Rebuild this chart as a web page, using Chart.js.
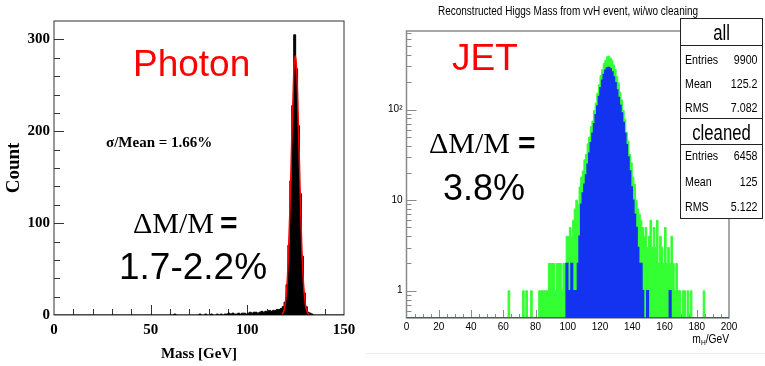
<!DOCTYPE html>
<html>
<head>
<meta charset="utf-8">
<script src="https://cdn.jsdelivr.net/npm/chart.js@4.4.1/dist/chart.umd.min.js"></script>
<style>
html, body { margin: 0; padding: 0; background: #fff; width: 765px; height: 366px; overflow: hidden; }
#photon { position: absolute; left: 0; top: 0; }
#jet { position: absolute; left: 370px; top: 0; }
#rule { position: absolute; left: 366px; top: 353px; width: 399px; height: 1px; background: #ececec; }
</style>
</head>
<body>
<canvas id="photon" width="370" height="366"></canvas>
<canvas id="jet" width="395" height="366"></canvas>
<div id="rule"></div>
<script>
// ---- data ----

// photon mass histogram, 1 GeV bins starting at 60 GeV
const photonStart = 60
const photonBin = 1
const photonCounts = [
    0, 0, 1, 0, 0, 0, 0, 0, 0, 0,          // 60-69
    0, 0, 0, 0, 0, 1, 0, 0, 1, 0,          // 70-79
    0, 1, 0, 0, 1, 0, 1, 0, 1, 1,          // 80-89
    2, 1, 2, 1, 1, 2, 1, 2, 2, 1,          // 90-99
    2, 3, 2, 3, 3, 2, 3, 4, 3, 4,          // 100-109
    4, 5, 4, 5, 5, 6, 6, 7, 9, 14,         // 110-119
    33, 76, 146, 228, 305, 268, 206, 132, 64, 24, // 120-129
    9, 3, 2, 1, 0                          // 130-134
]

// gaussian fit drawn in red
const fitMass  = [118, 119, 120, 121, 122, 123, 124, 124.4, 124.8, 125.2, 125.6, 126, 127, 128, 129, 130, 131, 132]
const fitCount = [1, 5, 19, 52, 113, 193, 262, 277, 282, 277, 264, 238, 160, 85, 36, 12, 3, 1]

// jet mass histograms, 1 GeV bins
const allStart = 60
const allCounts = [
    0, 0, 0, 1, 0, 0, 0, 0, 0, 0,          // 60-69
    0, 0, 1, 0, 1, 0, 0, 1, 0, 0,          // 70-79
    0, 0, 1, 1, 1, 1, 1, 1, 2, 2,          // 80-89
    2, 2, 1, 2, 2, 2, 1, 2, 2, 4,          // 90-99
    4, 5, 4, 6, 8, 10, 9, 14, 18, 21,      // 100-109
    28, 32, 42, 50, 65, 75, 98, 118, 152, 188, // 110-119
    238, 276, 324, 352, 384, 390, 372, 352, 312, 278, // 120-129
    232, 198, 156, 128, 98, 78, 56, 45, 32, 26, // 130-139
    18, 15, 10, 8, 7, 6, 5, 4, 5, 3,       // 140-149
    4, 6, 3, 5, 3, 6, 2, 4, 3, 2,          // 150-159
    5, 2, 3, 2, 4, 2, 1, 2, 1, 1,          // 160-169
    0, 1, 1, 0, 1, 0, 1, 0, 0, 0,          // 170-179
    0, 0, 0, 0, 1, 0, 0, 0, 0, 0           // 180-189
]
const cleanedStart = 95
const cleanedCounts = [
    0, 0, 0, 0, 2, 1, 1, 2, 1, 1,          // 95-104
    1, 2, 4, 9, 12, 15, 19, 25, 33, 43,    // 105-114
    55, 70, 88, 110, 140, 175, 212, 245, 272, 288, // 115-124
    292, 282, 260, 230, 198, 165, 136, 112, 92, 72, // 125-134
    55, 41, 30, 21, 14, 10, 7, 5, 3, 2,    // 135-144
    2, 1, 0, 0, 1, 0, 0, 0, 0, 0,          // 145-154
    0, 0, 0, 0, 0, 0, 0, 0, 1, 0           // 155-164
]

const statAll = [['Entries', '9900'], ['Mean', '125.2'], ['RMS', '7.082']]
const statCleaned = [['Entries', '6458'], ['Mean', '125'], ['RMS', '5.122']]


// ---- helpers ----
const SERIF = "'Liberation Serif', 'Times New Roman', serif"
const SANS = "'Liberation Sans', Arial, sans-serif"

// histogram as step points (value holds from its left edge to the next point)
function histPoints(start, width, counts, floor, axisMax) {
    const pts = [{ x: 0, y: floor }]
    counts.forEach((c, i) => pts.push({ x: start + i * width, y: c > 0 ? c : floor }))
    pts.push({ x: start + counts.length * width, y: floor })
    pts.push({ x: axisMax, y: floor })
    return pts
}

function isDecade(v) {
    const l = Math.log10(v)
    return Math.abs(l - Math.round(l)) < 1e-9
}

// condensed look for the ROOT labels
function narrowText(ctx, text, x, y, align, sx) {
    ctx.save()
    ctx.translate(x, y)
    ctx.scale(sx, 1)
    ctx.textAlign = align
    ctx.fillText(text, 0, 0)
    ctx.restore()
}

// ROOT-like frame with ticks pointing into the pad
function rootFrame(opt) {
    return {
        id: 'rootFrame',
        beforeDatasetsDraw(chart) {
            const { ctx, chartArea: a, scales: { x, y } } = chart
            ctx.save()
            ctx.strokeStyle = opt.color
            ctx.lineWidth = opt.frameWidth
            ctx.strokeRect(a.left, a.top, a.right - a.left, a.bottom - a.top)
            ctx.lineWidth = 1
            ctx.beginPath()
            x.ticks.forEach(t => {
                if (t.value <= x.min || t.value >= x.max) return
                const px = Math.round(x.getPixelForValue(t.value)) + 0.5
                const len = opt.xMajor(t.value) ? opt.xLen[0] : opt.xLen[1]
                ctx.moveTo(px, a.bottom)
                ctx.lineTo(px, a.bottom - len)
            })
            y.ticks.forEach(t => {
                if (t.value <= y.min || t.value >= y.max) return
                if (opt.skipY && opt.skipY(t.value)) return
                const py = Math.round(y.getPixelForValue(t.value)) + 0.5
                const len = opt.yMajor(t.value) ? opt.yLen[0] : opt.yLen[1]
                ctx.moveTo(a.left, py)
                ctx.lineTo(a.left + len, py)
            })
            ctx.stroke()
            ctx.restore()
        }
    }
}

// free text drawn over the pad
function textLayer(items) {
    return {
        id: 'textLayer',
        afterDraw(chart) {
            const ctx = chart.ctx
            ctx.save()
            ctx.textBaseline = 'alphabetic'
            ctx.textAlign = 'left'
            items.forEach(t => {
                ctx.font = t.font
                ctx.fillStyle = t.color
                ctx.fillText(t.text, t.x, t.y)
            })
            ctx.restore()
        }
    }
}


// ---- left: photon ----
new Chart(document.getElementById('photon'), {
    type: 'line',
    data: {
        datasets: [
            {
                label: 'fit',
                data: fitMass.map((m, i) => ({ x: m, y: fitCount[i] })),
                borderColor: '#ff0000',
                borderWidth: 1.5,
                pointRadius: 0,
                cubicInterpolationMode: 'monotone',
                fill: false
            },
            {
                label: 'photon',
                data: histPoints(photonStart, photonBin, photonCounts, 0, 150),
                borderColor: '#000',
                backgroundColor: '#000',
                borderWidth: 1,
                pointRadius: 0,
                stepped: 'before',
                fill: 'start'
            }
        ]
    },
    options: {
        responsive: false,
        animation: false,
        layout: { padding: { top: 21, right: 26, left: 0, bottom: 0 } },
        plugins: { legend: { display: false }, tooltip: { enabled: false } },
        scales: {
            x: {
                type: 'linear', min: 0, max: 150,
                grid: { display: false, drawTicks: false }, border: { display: false },
                ticks: {
                    stepSize: 10, autoSkip: false, maxRotation: 0, padding: 6, color: '#000',
                    font: { family: SERIF, size: 15, weight: 'bold' },
                    callback: v => v % 50 === 0 ? String(v) : ''
                },
                title: {
                    display: true, text: 'Mass [GeV]', color: '#000',
                    font: { family: SERIF, size: 15, weight: 'bold' },
                    padding: { top: 0, bottom: 3 }
                },
                afterFit: s => { s.height = 51 }
            },
            y: {
                type: 'linear', min: 0, max: 320,
                grid: { display: false, drawTicks: false }, border: { display: false },
                ticks: {
                    stepSize: 20, autoSkip: false, padding: 4, color: '#000',
                    font: { family: SERIF, size: 15, weight: 'bold' },
                    callback: v => v % 100 === 0 ? String(v) : ''
                },
                title: {
                    display: true, text: 'Count', color: '#000',
                    font: { family: SERIF, size: 19, weight: 'bold' },
                    padding: { top: 3, bottom: 0 }
                },
                afterFit: s => { s.width = 54 }
            }
        }
    },
    plugins: [
        rootFrame({
            color: '#333', frameWidth: 1,
            xMajor: v => v % 50 === 0, yMajor: v => v % 100 === 0,
            xLen: [10, 6], yLen: [10, 6]
        }),
        textLayer([
            { text: 'Photon', x: 133, y: 76, font: `37px ${SANS}`, color: '#ff0000' },
            { text: 'σ/Mean = 1.66%', x: 106, y: 147, font: `bold 15px ${SERIF}`, color: '#000' },
            { text: 'ΔM/M', x: 133, y: 233, font: `30px ${SERIF}`, color: '#000' },
            { text: '=', x: 220, y: 233, font: `bold 30px ${SANS}`, color: '#000' },
            { text: '1.7-2.2%', x: 119, y: 279, font: `37px ${SANS}`, color: '#000' }
        ])
    ]
})


// ---- right: jet ----
const jetTitle = 'Reconstructed Higgs Mass from vvH event, wi/wo cleaning'

const rootLabels = {
    id: 'rootLabels',
    afterDraw(chart) {
        const { ctx, chartArea: a } = chart
        ctx.save()
        ctx.fillStyle = '#000'
        ctx.textBaseline = 'alphabetic'

        // pad title
        ctx.font = `12.5px ${SANS}`
        narrowText(ctx, jetTitle, 198, 15, 'center', 0.8)

        // stat boxes
        const L = 310.5, R = 392.5
        const boxes = [
            { title: 'all', rows: statAll, top: 18.5, sep: 45.5, bottom: 118.5, titleY: 40, rowY: [64, 88, 112] },
            { title: 'cleaned', rows: statCleaned, top: 118.5, sep: 144.5, bottom: 218.5, titleY: 140, rowY: [160, 186, 211] }
        ]
        boxes.forEach(b => {
            ctx.fillStyle = '#fff'
            ctx.fillRect(L, b.top, R - L, b.bottom - b.top)
            ctx.strokeStyle = '#222'
            ctx.lineWidth = 1
            ctx.strokeRect(L, b.top, R - L, b.bottom - b.top)
            ctx.beginPath()
            ctx.moveTo(L, b.sep)
            ctx.lineTo(R, b.sep)
            ctx.stroke()
            ctx.fillStyle = '#000'
            ctx.font = `22px ${SANS}`
            narrowText(ctx, b.title, (L + R) / 2, b.titleY, 'center', 0.76)
            ctx.font = `13px ${SANS}`
            b.rows.forEach((r, i) => {
                narrowText(ctx, r[0], L + 4.5, b.rowY[i], 'left', 0.82)
                narrowText(ctx, r[1], R - 5, b.rowY[i], 'right', 0.82)
            })
        })

        // x axis title m_H/GeV, right aligned on the pad edge
        const base = 343
        ctx.font = `12.5px ${SANS}`
        narrowText(ctx, '/GeV', a.right, base, 'right', 0.82)
        const w1 = ctx.measureText('/GeV').width * 0.82
        ctx.font = `8px ${SANS}`
        narrowText(ctx, 'H', a.right - w1, base + 2, 'right', 0.82)
        const w2 = ctx.measureText('H').width * 0.82
        ctx.font = `12.5px ${SANS}`
        narrowText(ctx, 'm', a.right - w1 - w2, base, 'right', 0.82)
        ctx.restore()
    }
}

new Chart(document.getElementById('jet'), {
    type: 'line',
    data: {
        datasets: [
            {
                label: 'cleaned',
                data: histPoints(cleanedStart, 1, cleanedCounts, 0.5, 200),
                borderColor: '#1433f0',
                backgroundColor: '#1433f0',
                borderWidth: 1.5,
                pointRadius: 0,
                stepped: 'before',
                fill: 'start'
            },
            {
                label: 'all',
                data: histPoints(allStart, 1, allCounts, 0.5, 200),
                borderColor: '#33ff33',
                backgroundColor: '#33ff33',
                borderWidth: 1,
                pointRadius: 0,
                stepped: 'before',
                fill: 'start'
            }
        ]
    },
    options: {
        responsive: false,
        animation: false,
        layout: { padding: { top: 31, right: 36, left: 0, bottom: 0 } },
        plugins: { legend: { display: false }, tooltip: { enabled: false } },
        scales: {
            x: {
                type: 'linear', min: 0, max: 200,
                grid: { display: false, drawTicks: false }, border: { display: false },
                ticks: {
                    stepSize: 5, autoSkip: false, maxRotation: 0, padding: 3, color: '#000',
                    font: { family: SANS, size: 10 },
                    callback: v => v % 20 === 0 ? String(v) : ''
                },
                afterFit: s => { s.height = 48 }
            },
            y: {
                type: 'logarithmic', min: 0.5, max: 740,
                grid: { display: false, drawTicks: false }, border: { display: false },
                ticks: {
                    autoSkip: false, padding: 4, color: '#000',
                    font: { family: SANS, size: 10 },
                    callback: v => v === 1 ? '1' : v === 10 ? '10' : v === 100 ? '10²' : ''
                },
                afterFit: s => { s.width = 36.5 }
            }
        }
    },
    plugins: [
        rootFrame({
            color: '#8a8a8a', frameWidth: 1.5,
            xMajor: v => v % 20 === 0, yMajor: isDecade,
            skipY: v => Math.abs(v / Math.pow(10, Math.floor(Math.log10(v))) - 1.5) < 1e-9,
            xLen: [8, 4], yLen: [10, 5]
        }),
        textLayer([
            { text: 'JET', x: 82, y: 70, font: `37px ${SANS}`, color: '#ff0000' },
            { text: 'ΔM/M', x: 59, y: 153, font: `30px ${SERIF}`, color: '#000' },
            { text: '=', x: 148, y: 153, font: `bold 30px ${SANS}`, color: '#000' },
            { text: '3.8%', x: 73, y: 200, font: `36px ${SANS}`, color: '#000' }
        ]),
        rootLabels
    ]
})
</script>
</body>
</html>
